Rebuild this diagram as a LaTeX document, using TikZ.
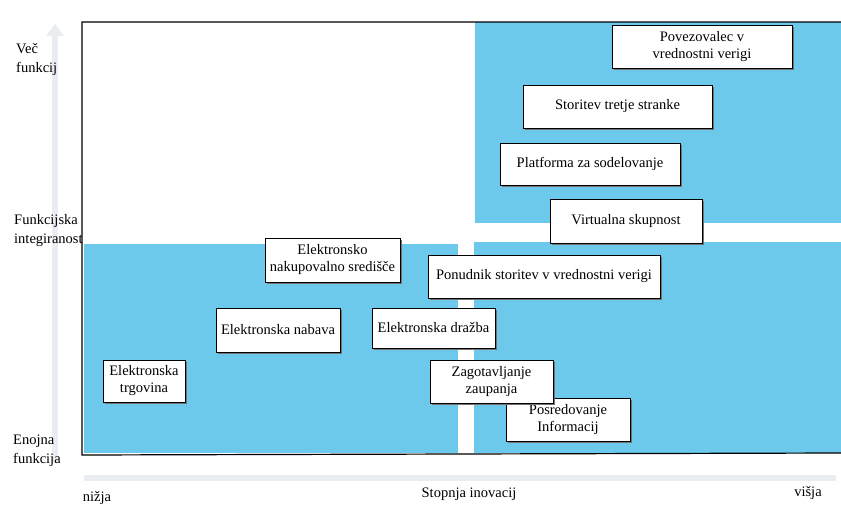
\documentclass[tikz,border=0pt]{standalone}
\usepackage{fontspec}
\setmainfont{Liberation Serif}
\usetikzlibrary{shadows}
\definecolor{quadblue}{RGB}{108,201,236}
\definecolor{axisgray}{RGB}{233,236,240}
\tikzset{box/.style = {draw, line width=1pt, fill=white, align=center, inner sep=0,
                       font=\fontsize{14.5}{17}\selectfont,
                       drop shadow={shadow xshift=2pt, shadow yshift=-2pt,
                                    fill=black!55, opacity=1}}}
\tikzset{lbl/.style = {align=left, inner sep=0, font=\fontsize{14.5}{19}\selectfont}}

\begin{document}
\begin{tikzpicture}[x=1pt, y=-1pt]
    \useasboundingbox (0, 0) rectangle (841, 506);
    % axes
    \fill [axisgray] (52, 34) rectangle (58, 462);
    \fill [axisgray] (46, 36) -- (55, 24) -- (64, 36) -- cycle;
    \fill [axisgray] (84, 475) rectangle (836, 481);
    % quadrants
    \fill [quadblue] (475, 22) rectangle (841, 223);
    \fill [quadblue] (84, 244) rectangle (458, 453);
    \fill [quadblue] (474, 242) rectangle (841, 453);
    \draw [line width=1.2pt] (841, 22) -- (82, 22) -- (82, 455) -- (841, 453);
    % axis labels
    \node [lbl, anchor = west] (vec) at (16, 59) {Več\\funkcij};
    \node [lbl, anchor = west] (integ) at (14, 231) {Funkcijska\\integiranost};
    \node [lbl, anchor = west] (enojna) at (13, 451) {Enojna\\funkcija};
    \node [lbl] (nizja) at (97, 498) {nižja};
    \node [lbl] (stopnja) at (469, 494) {Stopnja inovacij};
    \node [lbl] (visja) at (808, 493) {višja};
    % boxes
    \node [box, minimum width = 180, minimum height = 43] (pov) at (702, 46.5) {Povezovalec v\\vrednostni verigi};
    \node [box, minimum width = 189, minimum height = 43] (storitev) at (617.5, 106.5) {Storitev tretje stranke};
    \node [box, minimum width = 180, minimum height = 42] (platforma) at (590, 164) {Platforma za sodelovanje};
    \node [box, minimum width = 152, minimum height = 44] (virtualna) at (626, 221) {Virtualna skupnost};
    \node [box, minimum width = 232, minimum height = 43] (ponudnik) at (544, 276.5) {Ponudnik storitev v vrednostni verigi};
    \node [box, minimum width = 135, minimum height = 44] (sredisce) at (332.5, 260) {Elektronsko\\nakupovalno središče};
    \node [box, minimum width = 124, minimum height = 44] (nabava) at (278, 330) {Elektronska nabava};
    \node [box, minimum width = 123, minimum height = 40] (drazba) at (433.5, 328) {Elektronska dražba};
    \node [box, minimum width = 82, minimum height = 42] (trgovina) at (144, 381) {Elektronska\\trgovina};
    \node [box, minimum width = 124, minimum height = 43] (posred) at (568, 419.5) {Posredovanje\\Informacij};
    \node [box, minimum width = 123, minimum height = 43] (zaupanje) at (491.5, 381.5) {Zagotavljanje\\zaupanja};
\end{tikzpicture}
\end{document}
